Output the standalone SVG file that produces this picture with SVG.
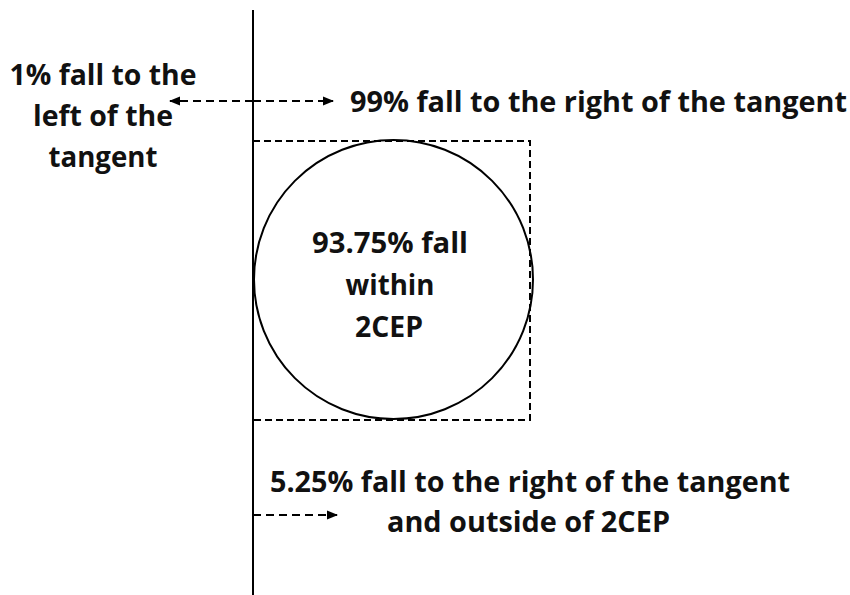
<svg xmlns="http://www.w3.org/2000/svg" width="850" height="595" viewBox="0 0 850 595">
<style>
text{font-family:"Open Sans","Liberation Sans",sans-serif;font-weight:bold;font-size:29px;fill:#111}
.solid{stroke:#000;stroke-width:2;fill:none}
.dash{stroke:#000;stroke-width:2;fill:none;stroke-dasharray:8 5}
.rect{stroke:#000;stroke-width:2;fill:none;stroke-dasharray:7 4}
</style>
<defs>
<marker id="ah" markerWidth="11" markerHeight="10" refX="10" refY="5" orient="auto" markerUnits="userSpaceOnUse">
<path d="M0,0.5 L11,5 L0,9.5 Z" fill="#000"/>
</marker>
</defs>
<rect width="850" height="595" fill="#fff"/>
<g id="tangent"><line class="solid" x1="253" y1="10" x2="253" y2="595"/></g>
<g id="region2cep">
<rect class="rect" x="253" y="141" width="277" height="279"/>
<circle class="solid" cx="393.5" cy="279.5" r="139.5"/>
<text x="390" y="253" text-anchor="middle" textLength="156" lengthAdjust="spacingAndGlyphs">93.75% fall</text>
<text x="390" y="295" text-anchor="middle" textLength="89" lengthAdjust="spacingAndGlyphs">within</text>
<text x="389" y="337" text-anchor="middle" textLength="68" lengthAdjust="spacingAndGlyphs">2CEP</text>
</g>
<g id="leftLabel">
<text x="103" y="85" text-anchor="middle" textLength="187" lengthAdjust="spacingAndGlyphs">1% fall to the</text>
<text x="103" y="126" text-anchor="middle" textLength="140" lengthAdjust="spacingAndGlyphs">left of the</text>
<text x="103" y="167" text-anchor="middle" textLength="109" lengthAdjust="spacingAndGlyphs">tangent</text>
</g>
<g id="rightLabel">
<text x="350" y="112" textLength="497" lengthAdjust="spacingAndGlyphs">99% fall to the right of the tangent</text>
</g>
<g id="bottomLabel">
<text x="270" y="492" textLength="520" lengthAdjust="spacingAndGlyphs">5.25% fall to the right of the tangent</text>
<text x="387" y="532" textLength="283" lengthAdjust="spacingAndGlyphs">and outside of 2CEP</text>
</g>
<g id="connectors">
<line class="dash" x1="253" y1="101" x2="170" y2="101" marker-end="url(#ah)"/>
<line class="dash" x1="253" y1="101" x2="333" y2="101" marker-end="url(#ah)"/>
<line class="dash" x1="253" y1="515" x2="337" y2="515" marker-end="url(#ah)"/>
</g>
</svg>
